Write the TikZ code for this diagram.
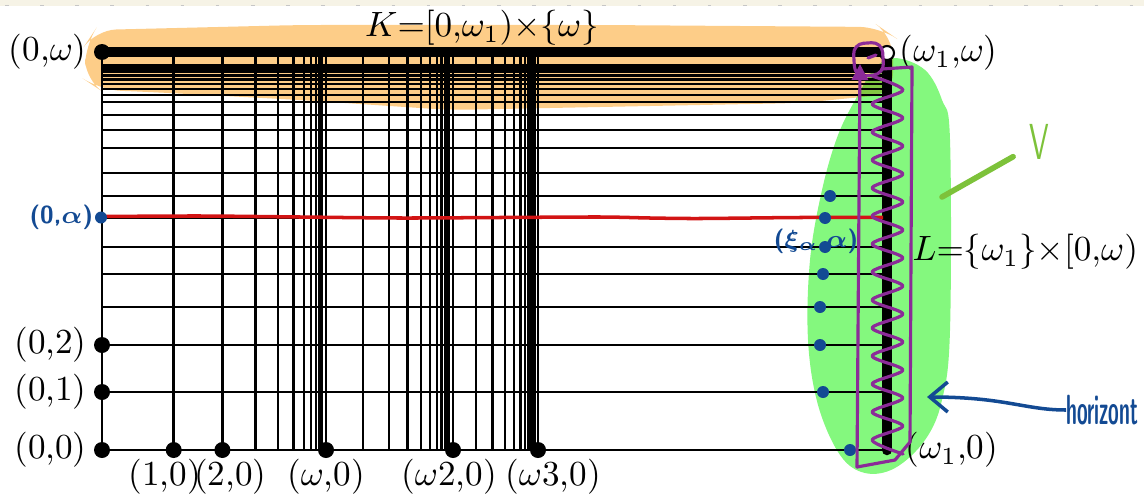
\documentclass[tikz,border=0pt]{standalone}
\usepackage{amsmath, amssymb}
\usepackage{xcolor}
\usepackage{tikz}
\usetikzlibrary{arrows.meta, positioning, calc}
\definecolor{pagecream}{HTML}{F6F3E6}
\definecolor{markorange}{HTML}{FDCD88}
\definecolor{markgreen}{HTML}{84F87E}
\definecolor{inkblue}{HTML}{134A93}
\definecolor{inkred}{HTML}{D21414}
\definecolor{inkpurple}{HTML}{8B2B98}
\definecolor{inkolive}{HTML}{7DC23A}

\begin{document}
\begin{tikzpicture}[>=Stealth,
    plankline/.style={line width=0.7pt},
    bigdot/.style={circle, fill=black, inner sep=0pt, minimum size=0.16cm},
    opendot/.style={circle, draw=black, fill=white, line width=0.6pt, inner sep=0pt, minimum size=0.14cm},
    inkdot/.style={circle, fill=inkblue, inner sep=0pt, minimum size=0.12cm},
    ink/.style={font=\sffamily\bfseries\boldmath\scriptsize, text=inkblue, inner sep=1pt},
    coord/.style={inner sep=0pt},
    scribble/.style={inkpurple, line width=0.9pt, line cap=round, line join=round}]
    \useasboundingbox (0,0) rectangle (11.44,4.96);

    % Page strip
    \fill[pagecream] (0,4.90) rectangle (11.44,4.96);
    \draw[gray!45, dash pattern=on 1pt off 9pt] (0.05,4.905) -- (11.44,4.905);

    % Highlighter marks
    \begin{scope}[blend mode=multiply]
        \fill[markorange, rounded corners=6pt] (0.95,4.66) -- (3.00,4.71) -- (6.00,4.71) -- (8.80,4.69) -- (8.93,4.60) -- (8.93,4.02) -- (8.00,3.93) -- (6.00,3.89) -- (4.50,3.86) -- (3.00,3.96) -- (1.50,4.04) -- (1.00,4.06) -- (0.85,4.16) -- (0.85,4.51) -- cycle;
        \fill[markgreen] plot[smooth cycle, tension=0.6] coordinates {(8.95,4.38) (9.25,4.26) (9.42,3.96) (9.50,3.56) (9.50,1.66) (9.42,0.96) (9.25,0.56) (8.95,0.28) (8.65,0.23) (8.40,0.41) (8.18,0.91) (8.08,1.56) (8.10,2.36) (8.22,3.06) (8.38,3.61) (8.58,4.01) (8.75,4.28)};
    \end{scope}

    % Horizontal lines
    \foreach \d in {3.98,3.40,2.93,2.55,2.22,1.95,1.66,1.44,1.21,0.96,0.78,0.63,0.50}{
        \draw[plankline] (1.02,{4.44-\d}) -- (8.87,{4.44-\d});
    }
    \foreach \k in {1,...,9}{
        \draw[plankline] (1.02,{4.44-0.5*0.86^\k}) -- (8.87,{4.44-0.5*0.86^\k});
    }

    % Vertical lines
    \foreach \a/\b/\r in {1.02/3.26/0.68, 3.26/4.53/0.71, 4.53/5.38/0.73}{
        \foreach \n in {0,...,10}{
            \draw[plankline] ({\b-(\b-\a)*\r^\n},0.46) -- ({\b-(\b-\a)*\r^\n},4.44);
        }
    }
    \draw[plankline] (5.38,0.46) -- (5.38,4.44);

    % K and L
    \draw[line width=3pt] (1.02,4.44) -- (8.80,4.44);
    \draw[line width=3pt, line cap=round] (8.87,0.46) -- (8.87,4.36);

    % Points
    \node[bigdot] (o) at (1.02,0.46) {};
    \node[bigdot] (p01) at (1.02,1.04) {};
    \node[bigdot] (p02) at (1.02,1.51) {};
    \node[bigdot] (p0w) at (1.02,4.44) {};
    \node[bigdot] (p10) at (1.737,0.46) {};
    \node[bigdot] (p20) at (2.224,0.46) {};
    \node[bigdot] (pw0) at (3.26,0.46) {};
    \node[bigdot] (pw20) at (4.53,0.46) {};
    \node[bigdot] (pw30) at (5.38,0.46) {};
    \node[opendot] (pw1w) at (8.87,4.43) {};
    \coordinate (pw10) at (8.87,0.46);

    % Labels
    \node[coord, left=0.06cm of o] {(0,0)};
    \node[coord, left=0.06cm of p01] {(0,1)};
    \node[coord, left=0.06cm of p02] {(0,2)};
    \node[coord, left=0.06cm of p0w] {(0,$\omega$)};
    \node[coord, below=0pt of p10, xshift=-0.09cm] {(1,0)};
    \node[coord, below=0pt of p20, xshift=0.08cm] {(2,0)};
    \node[coord, below=0pt of pw0] {($\omega$,0)};
    \node[coord, below=0pt of pw20, xshift=-0.04cm] {($\omega$2,0)};
    \node[coord, below=0pt of pw30, xshift=0.15cm] {($\omega$3,0)};
    \node[coord, right=0.04cm of pw1w] {($\omega_1$,$\omega$)};
    \node[coord, right=0.18cm of pw10] {($\omega_1$,0)};
    \node (klab) at (4.82,4.68) {$K{=}[0{,}\omega_1){\times}\{\omega\}$};
    \node[anchor=west, inner sep=0pt] (llab) at (9.12,2.44) {$L{=}\{\omega_1\}{\times}[0{,}\omega)$};

    % Red row
    \draw[inkred, line width=1pt] plot[smooth] coordinates {(1.04,2.795) (2.0,2.80) (3.0,2.79) (4.0,2.78) (5.0,2.785) (6.0,2.79) (6.5,2.78) (7.0,2.775) (8.0,2.785) (8.83,2.785)};
    \node[inkdot] (a0) at (1.01,2.785) {};
    \node[ink, left=-0.03cm of a0] {(0,$\alpha$)};

    % Blue points near L
    \foreach \x/\d [count=\i] in {8.50/3.98, 8.23/3.40, 8.20/2.93, 8.20/2.55, 8.23/2.22, 8.25/1.95, 8.25/1.66, 8.30/1.44}{
        \node[inkdot] (xi\i) at (\x,{4.44-\d}) {};
    }
    \node[ink, below=0pt of xi7, xshift=-0.09cm] {($\xi_\alpha$,$\alpha$)};

    % Purple scribble
    \draw[scribble, rounded corners=3pt] (8.53,4.52) -- (8.82,4.54) -- (8.84,4.22) -- (8.55,4.19) -- cycle;
    \draw[scribble] (8.68,4.38) -- (8.76,4.41);
    \draw[scribble] (8.82,4.27) -- (9.12,4.29) -- (9.10,0.54) -- (8.95,0.36) -- (8.57,0.29);
    \draw[scribble, -{Triangle[length=1.6mm, width=1.6mm]}] (8.57,0.29) -- (8.60,4.32);
    \draw[scribble] plot[domain=0:27, samples=28, smooth] ({8.875+0.155*cos(180*\x)}, {0.42+0.14*\x});

    % Horizontal arrow note
    \node[font=\sffamily\bfseries\large, text=inkblue, xscale=0.46, anchor=west, inner sep=0pt] (hz) at (10.66,0.86) {horizont};
    \coordinate (hztip) at (9.27,0.99);
    \draw[inkblue, line width=1pt, -{Straight Barb[length=1.8mm, width=3mm]}] (hz.west) .. controls (10.25,0.86) and (10.05,0.99) .. (hztip);

    % V note
    \node[font=\sffamily\Large, text=inkolive, xscale=0.6, inner sep=0pt] (vlab) at (10.39,3.54) {V};
    \coordinate (vtip) at (9.42,2.99);
    \draw[inkolive, line width=1.6pt, line cap=round, shorten <=0.18cm] (vlab) -- (vtip);
\end{tikzpicture}
\end{document}
